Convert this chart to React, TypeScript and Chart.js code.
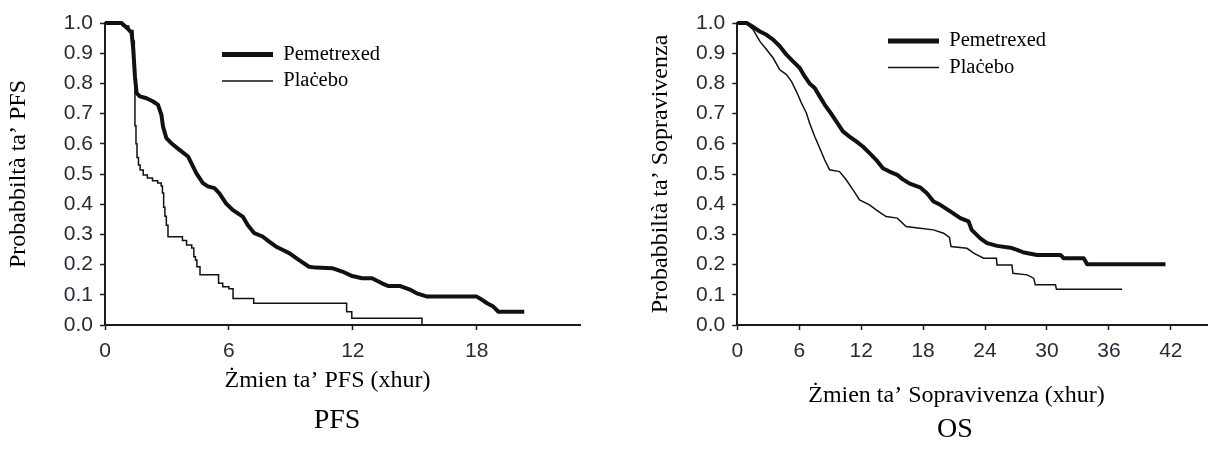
import React, { useEffect, useRef } from 'react';
import { Chart, registerables } from 'chart.js';

Chart.register(...registerables);

// ---------- Data ----------
const seriesNames = ['Pemetrexed', 'Plaċebo'];
const yTickValues = [0, 0.1, 0.2, 0.3, 0.4, 0.5, 0.6, 0.7, 0.8, 0.9, 1.0];
const pfsXTicks = [0, 6, 12, 18];
const osXTicks = [0, 6, 12, 18, 24, 30, 36, 42];

// PFS – Pemetrexed (traced vertices)
const pfsPemMonths = [0, 0.8, 1.12, 1.29, 1.37, 1.45, 1.53, 1.69, 2.01, 2.33, 2.57, 2.73, 2.81, 2.97, 3.21, 3.61, 4.02, 4.18, 4.42, 4.74, 4.98, 5.3, 5.54, 5.86, 6.18, 6.67, 6.91, 7.23, 7.63, 7.95, 8.27, 8.59, 8.92, 9.4, 9.88, 10.2, 11.0, 11.49, 11.97, 12.45, 12.93, 13.41, 13.73, 14.3, 14.8, 15.1, 15.6, 18.0, 18.15, 18.5, 18.8, 19.05, 20.3];
const pfsPemProb = [1.0, 1.0, 0.98, 0.967, 0.912, 0.823, 0.768, 0.757, 0.751, 0.74, 0.729, 0.696, 0.657, 0.619, 0.602, 0.58, 0.558, 0.536, 0.503, 0.47, 0.459, 0.453, 0.436, 0.403, 0.381, 0.359, 0.331, 0.304, 0.293, 0.276, 0.26, 0.249, 0.238, 0.215, 0.193, 0.19, 0.188, 0.177, 0.162, 0.155, 0.155, 0.138, 0.129, 0.129, 0.116, 0.105, 0.094, 0.094, 0.088, 0.072, 0.061, 0.044, 0.044];

// PFS – Placebo (event times, step curve)
const pfsPlaMonths = [0, 0.85, 1.15, 1.35, 1.42, 1.45, 1.5, 1.55, 1.62, 1.7, 1.85, 2.05, 2.3, 2.55, 2.72, 2.78, 2.84, 2.9, 2.97, 3.05, 3.75, 3.95, 4.2, 4.3, 4.38, 4.45, 4.6, 5.5, 5.7, 6.0, 6.2, 7.2, 11.7, 11.95, 15.35];
const pfsPlaProb = [1.0, 0.99, 0.975, 0.94, 0.82, 0.66, 0.6, 0.555, 0.53, 0.513, 0.497, 0.487, 0.478, 0.47, 0.46, 0.437, 0.39, 0.36, 0.33, 0.292, 0.28, 0.265, 0.255, 0.226, 0.215, 0.193, 0.166, 0.138, 0.127, 0.12, 0.088, 0.072, 0.044, 0.022, 0.0];

// OS – Pemetrexed (traced vertices)
const osPemMonths = [0, 0.9, 1.38, 2.19, 2.83, 3.47, 4.12, 4.76, 5.4, 6.05, 6.53, 7.0, 7.5, 7.98, 8.46, 8.94, 9.59, 10.23, 10.87, 11.52, 12.16, 12.81, 13.45, 14.1, 14.74, 15.5, 16.0, 16.7, 17.7, 18.37, 19.01, 19.66, 20.63, 21.6, 22.4, 22.7, 23.54, 24.19, 25.16, 26.45, 27.1, 27.75, 29.04, 31.3, 31.62, 33.56, 33.89, 41.48];
const osPemProb = [1.0, 1.0, 0.99, 0.972, 0.961, 0.945, 0.923, 0.895, 0.873, 0.851, 0.823, 0.8, 0.785, 0.757, 0.73, 0.707, 0.674, 0.641, 0.624, 0.608, 0.591, 0.569, 0.547, 0.519, 0.508, 0.497, 0.483, 0.468, 0.456, 0.436, 0.409, 0.398, 0.376, 0.354, 0.343, 0.315, 0.287, 0.271, 0.262, 0.256, 0.249, 0.24, 0.232, 0.232, 0.221, 0.221, 0.201, 0.201];

// OS – Placebo (traced vertices)
const osPlaMonths = [0, 0.9, 1.54, 2.19, 2.83, 3.47, 4.12, 4.76, 5.24, 5.73, 6.21, 6.69, 7.0, 7.5, 7.98, 8.46, 8.94, 9.9, 10.55, 11.2, 11.84, 12.81, 13.45, 14.41, 15.5, 16.35, 17.7, 19.0, 19.98, 20.55, 20.7, 22.25, 22.9, 23.86, 25.1, 25.16, 26.6, 26.7, 28.07, 28.71, 28.87, 30.82, 30.92, 37.28];
const osPlaProb = [1.0, 0.998, 0.978, 0.939, 0.912, 0.884, 0.845, 0.829, 0.807, 0.773, 0.735, 0.702, 0.669, 0.624, 0.586, 0.547, 0.514, 0.508, 0.481, 0.448, 0.414, 0.398, 0.381, 0.359, 0.354, 0.326, 0.32, 0.315, 0.304, 0.29, 0.26, 0.254, 0.238, 0.221, 0.221, 0.199, 0.199, 0.171, 0.166, 0.155, 0.133, 0.133, 0.118, 0.118];

// Texts
const pfsYTitle = 'Probabbiltà ta’ PFS';
const pfsXTitle = 'Żmien ta’ PFS (xhur)';
const pfsCaption = 'PFS';
const osYTitle = 'Probabbiltà ta’ Sopravivenza';
const osXTitle = 'Żmien ta’ Sopravivenza (xhur)';
const osCaption = 'OS';

// ---------- Styles ----------
const SERIF = '"Liberation Serif", "Times New Roman", serif';
const SANS = '"Liberation Sans", Arial, sans-serif';
const INK = '#111111';
const AXIS = '#1c1c1c';
const TICK_TEXT = '#2a2a36';
const H = 451;

// Moves the (chartArea) legend to a given spot inside the plot
const legendMover = {
  id: 'legendMover',
  beforeDraw(chart: any, _args: any, opts: any) {
    const lg = chart.legend;
    if (!lg) return;
    lg.left = opts.x;
    lg.top = opts.y;
    lg.right = opts.x + 400;
    lg.bottom = opts.y + 200;
  },
};

// Draws the x-axis title and the panel caption
const captions = {
  id: 'captions',
  afterDraw(chart: any, _args: any, opts: any) {
    const ctx = chart.ctx;
    ctx.save();
    ctx.fillStyle = '#000';
    ctx.textAlign = 'center';
    ctx.textBaseline = 'middle';
    for (const it of opts.items || []) {
      ctx.font = `${it.size}px ${SERIF}`;
      ctx.fillText(it.text, it.x, it.y);
    }
    ctx.restore();
  },
};

function toPoints(xs: number[], ys: number[]) {
  return xs.map((x, i) => ({ x, y: ys[i] }));
}

type PanelProps = {
  left: number;
  width: number;
  yWidth: number;
  padRight: number;
  xMax: number;
  xTicks: number[];
  pem: { x: number; y: number }[];
  pla: { x: number; y: number }[];
  plaStepped: any;
  yTitle: string;
  yTitlePad: number;
  xTitle: string;
  xTitlePos: [number, number];
  caption: string;
  captionPos: [number, number];
  legendPos: [number, number];
};

function Panel(p: PanelProps) {
  const ref = useRef<HTMLCanvasElement | null>(null);
  useEffect(() => {
    const canvas = ref.current;
    if (!canvas) return;
    const gridCfg = {
      display: true,
      drawOnChartArea: false,
      drawTicks: true,
      tickLength: 5,
      tickColor: AXIS,
      tickWidth: 1.5,
    };
    const borderCfg = { display: true, color: AXIS, width: 2 };
    const chart = new Chart(canvas, {
      type: 'line',
      data: {
        datasets: [
          {
            label: seriesNames[0],
            data: p.pem,
            borderColor: INK,
            backgroundColor: INK,
            borderWidth: 4,
            borderJoinStyle: 'round',
            pointRadius: 0,
            pointHoverRadius: 0,
            fill: false,
            tension: 0,
            clip: false,
          },
          {
            label: seriesNames[1],
            data: p.pla,
            borderColor: INK,
            backgroundColor: INK,
            borderWidth: 1.5,
            pointRadius: 0,
            pointHoverRadius: 0,
            fill: false,
            tension: 0,
            stepped: p.plaStepped,
            clip: false,
          },
        ],
      },
      options: {
        responsive: false,
        animation: false,
        devicePixelRatio: 1,
        events: [],
        layout: {
          autoPadding: false,
          padding: { top: 23, right: p.padRight, bottom: 0, left: 0 },
        },
        plugins: {
          legend: {
            display: true,
            position: 'chartArea',
            align: 'start',
            labels: {
              boxWidth: 51,
              boxHeight: 0,
              padding: 6,
              color: '#000',
              font: { family: SERIF, size: 20.5 },
              generateLabels: (chart: any) => {
                const items = (Chart as any).defaults.plugins.legend.labels.generateLabels(chart);
                items.forEach((it: any, i: number) => {
                  it.lineWidth = i === 0 ? 5 : 1.5;
                  it.lineJoin = 'miter';
                  it.lineCap = 'butt';
                });
                return items;
              },
            },
          },
          tooltip: { enabled: false },
          title: { display: false },
          legendMover: { x: p.legendPos[0], y: p.legendPos[1] },
          captions: {
            items: [
              { text: p.xTitle, x: p.xTitlePos[0], y: p.xTitlePos[1], size: 24 },
              { text: p.caption, x: p.captionPos[0], y: p.captionPos[1], size: 28 },
            ],
          },
        } as any,
        scales: {
          x: {
            type: 'linear',
            min: 0,
            max: p.xMax,
            afterBuildTicks: (s: any) => {
              s.ticks = p.xTicks.map((v) => ({ value: v }));
            },
            afterFit: (s: any) => {
              s.height = H - 325;
            },
            grid: gridCfg,
            border: borderCfg,
            ticks: {
              padding: 9,
              color: TICK_TEXT,
              font: { family: SANS, size: 21 },
              maxRotation: 0,
              callback: (v: any) => String(v),
            },
          },
          y: {
            type: 'linear',
            min: 0,
            max: 1,
            afterBuildTicks: (s: any) => {
              s.ticks = yTickValues.map((v) => ({ value: v }));
            },
            afterFit: (s: any) => {
              s.width = p.yWidth;
            },
            grid: gridCfg,
            border: borderCfg,
            ticks: {
              padding: 7,
              color: TICK_TEXT,
              font: { family: SANS, size: 21 },
              callback: (v: any) => Number(v).toFixed(1),
            },
            title: {
              display: true,
              text: p.yTitle,
              color: '#000',
              font: { family: SERIF, size: 24 },
              padding: { top: p.yTitlePad, bottom: 0 },
            },
          },
        },
      } as any,
      plugins: [legendMover, captions],
    });
    return () => chart.destroy();
  }, []);
  return (
    <canvas
      ref={ref}
      width={p.width}
      height={H}
      style={{ position: 'absolute', left: p.left, top: 0, width: p.width, height: H }}
    />
  );
}

export default function App() {
  return (
    <div style={{ position: 'absolute', left: 0, top: 0, width: 1209, height: H, background: '#fff', overflow: 'hidden' }}>
      <Panel
        left={0}
        width={604}
        yWidth={105}
        padRight={24}
        xMax={23}
        xTicks={pfsXTicks}
        pem={toPoints(pfsPemMonths, pfsPemProb)}
        pla={toPoints(pfsPlaMonths, pfsPlaProb)}
        plaStepped={'before'}
        yTitle={pfsYTitle}
        yTitlePad={4.6}
        xTitle={pfsXTitle}
        xTitlePos={[327.5, 381]}
        caption={pfsCaption}
        captionPos={[337, 421]}
        legendPos={[216, 38.25]}
      />
      <Panel
        left={604}
        width={605}
        yWidth={133.3}
        padRight={2}
        xMax={45.5}
        xTicks={osXTicks}
        pem={toPoints(osPemMonths, osPemProb)}
        pla={toPoints(osPlaMonths, osPlaProb)}
        plaStepped={false}
        yTitle={osYTitle}
        yTitlePad={42.6}
        xTitle={osXTitle}
        xTitlePos={[352.5, 396]}
        caption={osCaption}
        captionPos={[351, 430]}
        legendPos={[278, 24.75]}
      />
    </div>
  );
}
